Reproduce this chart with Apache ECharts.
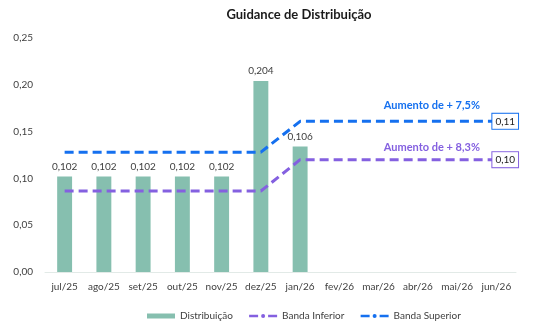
<!DOCTYPE html>
<html><head><meta charset="utf-8">
<script src="https://cdn.jsdelivr.net/npm/echarts@6/dist/echarts.min.js"></script>
<style>html,body{margin:0;padding:0;background:#fff}#c{width:539px;height:332px}</style>
</head><body><div id="c"></div>
<script>
const categories = ['jul/25','ago/25','set/25','out/25','nov/25','dez/25','jan/26','fev/26','mar/26','abr/26','mai/26','jun/26'];
const distribuicao = [0.102,0.102,0.102,0.102,0.102,0.204,0.134,null,null,null,null,null];
const distribuicaoLabels = ['0,102','0,102','0,102','0,102','0,102','0,204','0,106','','','','',''];
const bandaInferior = [0.0865,0.0865,0.0865,0.0865,0.0865,0.0865,0.120,0.120,0.120,0.120,0.120,0.120];
const bandaSuperior = [0.128,0.128,0.128,0.128,0.128,0.128,0.161,0.161,0.161,0.161,0.161,0.161];
const endLabelInferior = '0,10';
const endLabelSuperior = '0,11';
const noteInferior = 'Aumento de + 8,3%';
const noteSuperior = 'Aumento de + 7,5%';

const FONT = 'Lato';
const BAR = '#86BFAF', BLUE = '#1570EF', PURPLE = '#8460E0';

function marks(vals, color, endText, noteText, noteDy) {
  const last = vals.length - 1;
  return {
    symbol: 'circle', symbolSize: 0, silent: true,
    itemStyle: { color: 'rgba(0,0,0,0)' },
    data: [
      { coord: [last, vals[last]],
        label: { show: true, position: 'right', distance: -4, formatter: endText,
          color: '#222', fontSize: 10, fontFamily: FONT, backgroundColor: '#fff',
          borderColor: color, borderWidth: 1, padding: [3, 3, 2, 3] } },
      { coord: [9, vals[9]],
        label: { show: true, position: 'top', distance: 0, offset: [14, noteDy], formatter: noteText,
          color: color, fontSize: 11, fontWeight: 'bold', fontFamily: FONT } }
    ]
  };
}

const chart = echarts.init(document.getElementById('c'), null, { renderer: 'canvas' });
chart.setOption({
  animation: false,
  textStyle: { fontFamily: FONT },
  title: { text: 'Guidance de Distribuição', left: 294, textAlign: 'center', top: 3,
    textStyle: { fontSize: 13, fontWeight: 'bold', color: '#1a1a1a', fontFamily: FONT } },
  grid: { left: 45, right: 23, top: 38, bottom: 60 },
  legend: { bottom: 6, left: 142, itemGap: 15, itemWidth: 28, itemHeight: 5,
    textStyle: { fontSize: 10, color: '#404040', fontFamily: FONT },
    data: [
      { name: 'Distribuição', icon: 'rect' },
      { name: 'Banda Inferior', lineStyle: { type: [9, 10], width: 2.5 } },
      { name: 'Banda Superior', lineStyle: { type: [9, 10], width: 2.5 } }
    ] },
  xAxis: { type: 'category', data: categories,
    axisLine: { lineStyle: { color: '#E2EAE7', width: 1 } }, axisTick: { show: false },
    axisLabel: { color: '#404040', fontSize: 10, margin: 10, interval: 0, fontFamily: FONT } },
  yAxis: { type: 'value', min: 0, max: 0.25, interval: 0.05,
    splitLine: { show: false }, axisLine: { show: false }, axisTick: { show: false },
    axisLabel: { color: '#404040', fontSize: 10, margin: 12, fontFamily: FONT,
      formatter: v => v.toFixed(2).replace('.', ',') } },
  series: [
    { name: 'Distribuição', type: 'bar', data: distribuicao, barWidth: '38%',
      itemStyle: { color: BAR },
      label: { show: true, position: 'top', distance: 5, color: '#404040', fontSize: 10, fontFamily: FONT,
        formatter: p => distribuicaoLabels[p.dataIndex] } },
    { name: 'Banda Inferior', type: 'line', data: bandaInferior,
      symbol: 'none', itemStyle: { color: PURPLE }, z: 3,
      lineStyle: { color: PURPLE, width: 3, type: [9, 5] },
      markPoint: marks(bandaInferior, PURPLE, endLabelInferior, noteInferior, -7) },
    { name: 'Banda Superior', type: 'line', data: bandaSuperior,
      symbol: 'none', itemStyle: { color: BLUE }, z: 3,
      lineStyle: { color: BLUE, width: 3, type: [9, 5] },
      markPoint: marks(bandaSuperior, BLUE, endLabelSuperior, noteSuperior, -10) }
  ]
});
</script></body></html>
